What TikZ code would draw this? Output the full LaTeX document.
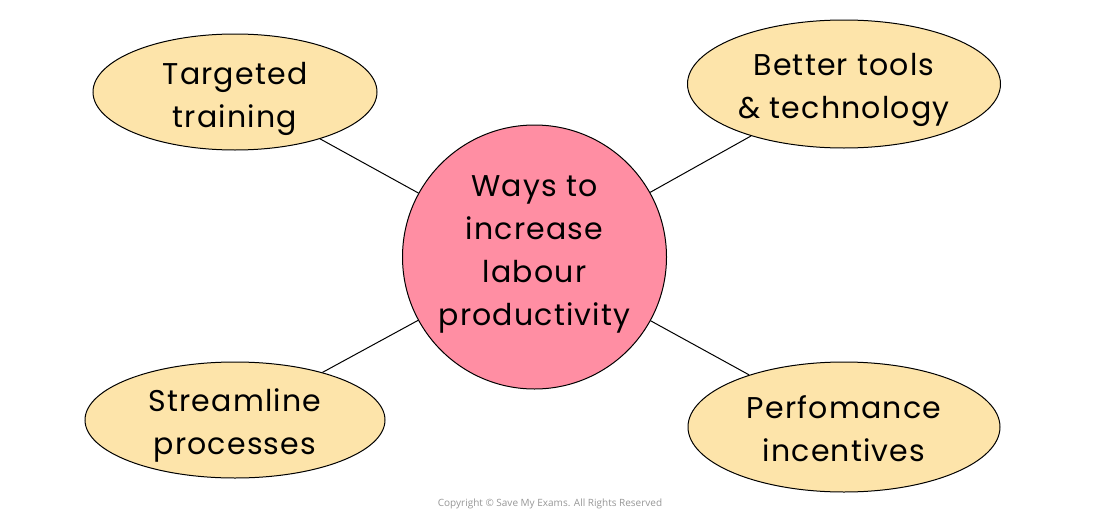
\documentclass[tikz,border=0pt]{standalone}
\usepackage{fontspec}
\setmainfont{Poppins}[LetterSpace=4]
\newfontfamily\copyfont{Open Sans}
\usetikzlibrary{shapes.geometric}
\definecolor{leaf}{RGB}{253,228,170}
\definecolor{hub}{RGB}{255,142,163}
\definecolor{copygray}{RGB}{150,150,150}
\tikzset{
  leafnode/.style={ellipse, draw=black, line width=1pt, fill=leaf, inner sep=0pt},
  hubnode/.style={circle, draw=black, line width=1pt, fill=hub, inner sep=0pt, minimum size=264pt},
  label text/.style={inner sep=0pt, align=center, font=\fontsize{30}{43}\selectfont},
  link/.style={draw=black, line width=1pt}
}
\begin{document}
\begin{tikzpicture}[x=1pt,y=-1pt]
\useasboundingbox (0,0) rectangle (1101,514);
\node[hubnode] (c) at (534.5,257) {};
\node[leafnode, minimum width=284pt, minimum height=116pt] (tl) at (235,92) {};
\node[leafnode, minimum width=313pt, minimum height=128pt] (tr) at (844,84) {};
\node[leafnode, minimum width=300pt, minimum height=116pt] (bl) at (235,420) {};
\node[leafnode, minimum width=312pt, minimum height=130pt] (br) at (844,427) {};
\node[label text] (ct) at (534.5,254) {Ways to\\increase\\labour\\productivity};
\node[label text] (tlt) at (235,99) {Targeted\\training};
\node[label text] (trt) at (844,90) {Better tools\\\& technology};
\node[label text] (blt) at (235,425) {Streamline\\processes};
\node[label text] (brt) at (844,429) {Perfomance\\incentives};
\draw[link] (tl) -- (c);
\draw[link] (tr) -- (c);
\draw[link] (bl) -- (c);
\draw[link] (br) -- (c);
\node[font=\copyfont\fontsize{10}{12}\selectfont, text=copygray] (copy) at (550,504) {Copyright © Save My Exams. All Rights Reserved};
\end{tikzpicture}
\end{document}
